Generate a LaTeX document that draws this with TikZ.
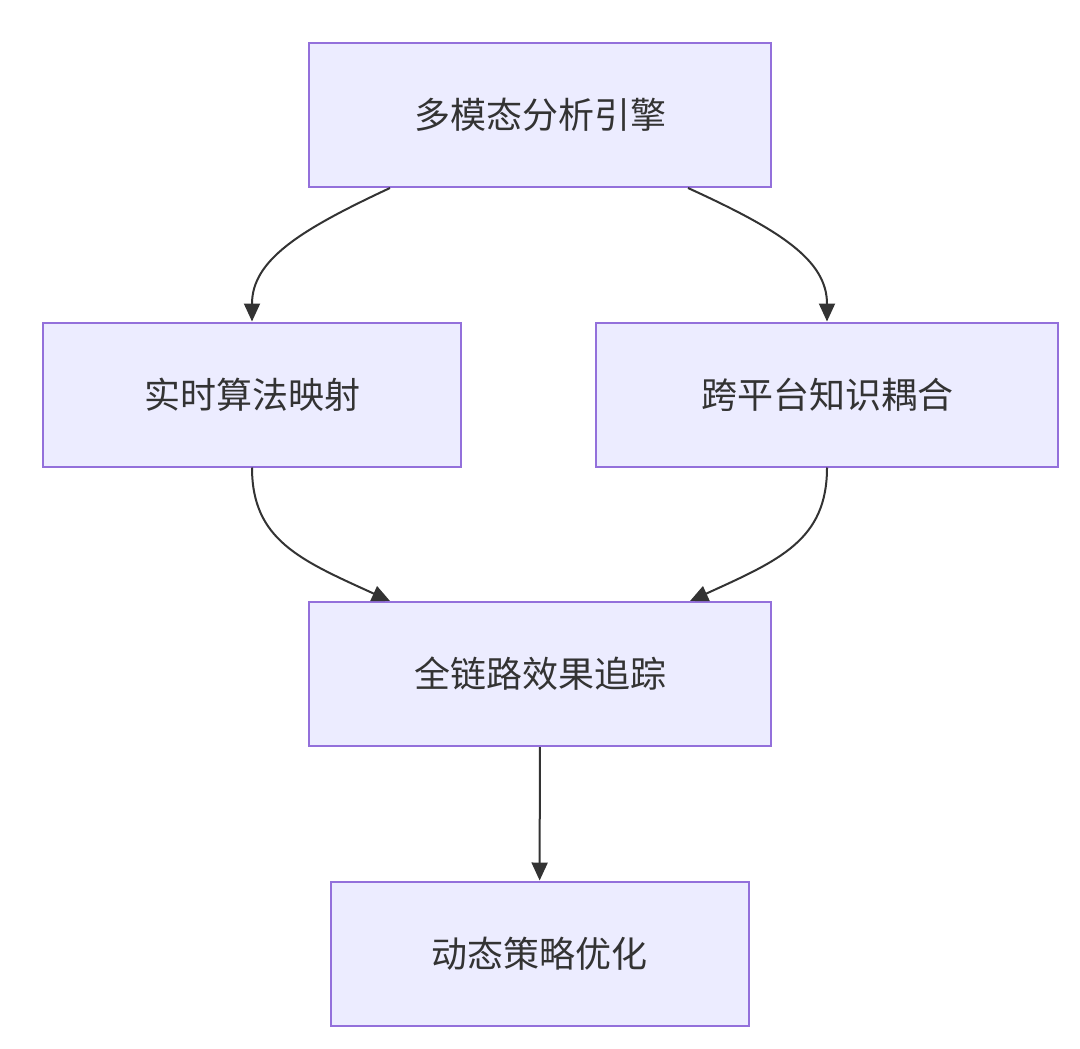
\documentclass[tikz,border=0pt]{standalone}
\usepackage{fontspec}
\setmainfont{Noto Sans CJK SC}
\usetikzlibrary{positioning,arrows.meta}
\definecolor{boxfill}{HTML}{ECECFF}
\definecolor{boxline}{HTML}{9370DB}
\definecolor{ink}{HTML}{333333}
\tikzset{
 box/.style={draw=boxline, fill=boxfill, line width=1pt, minimum height=72pt, text=ink, font=\fontsize{18pt}{22pt}\selectfont},
 link/.style={draw=ink, line width=1pt, -{Triangle[length=9pt,width=8pt]}}
}
\begin{document}
\begin{tikzpicture}[x=0.5pt,y=-0.5pt]
 \useasboundingbox (0,0) rectangle (1080,1048);
 \node[box, minimum width=231pt] (engine) at (540,115) {多模态分析引擎};
 \node[box, minimum width=209pt] (mapping) at (252,394.5) {实时算法映射};
 \node[box, minimum width=231pt] (coupling) at (827,394.5) {跨平台知识耦合};
 \node[box, minimum width=231pt] (tracking) at (540,674) {全链路效果追踪};
 \node[box, minimum width=209pt] (strategy) at (539.5,953.5) {动态策略优化};
 % curved links
 \draw[link] ([xshift=-75pt]engine.south) .. controls (300,230) and (252,260) .. (mapping.north);
 \draw[link] ([xshift=74pt]engine.south) .. controls (780,230) and (827,260) .. (coupling.north);
 \draw[link] (mapping.south) .. controls (252,540) and (300,560) .. ([xshift=-75pt]tracking.north);
 \draw[link] (coupling.south) .. controls (827,540) and (780,560) .. ([xshift=75pt]tracking.north);
 \draw[link] (tracking) -- (strategy);
\end{tikzpicture}
\end{document}
